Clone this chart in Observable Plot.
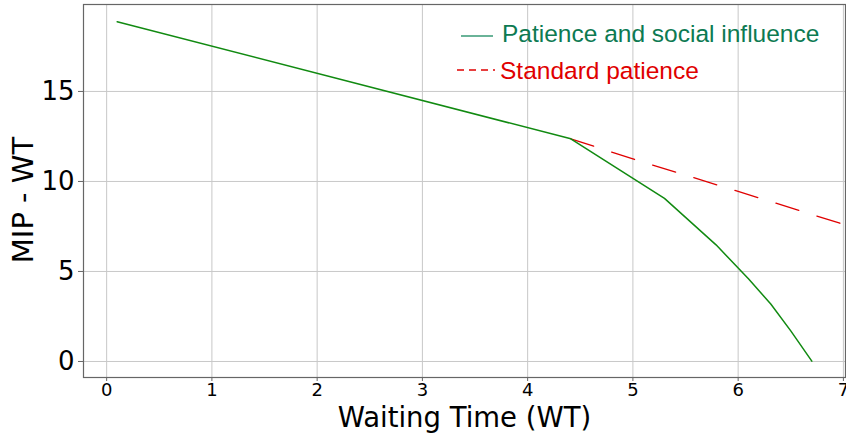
<!DOCTYPE html>
<html>
<head>
<meta charset="utf-8">
<script src="https://cdn.jsdelivr.net/npm/d3@7"></script>
<script src="https://cdn.jsdelivr.net/npm/@observablehq/plot@0.6"></script>
<style>
  html, body { margin: 0; padding: 0; background: #fff; }
  #wrap { position: relative; width: 846px; height: 434px; }
  .leg { position: absolute; font-family: "Liberation Sans", Arial, sans-serif; font-size: 24.5px; line-height: 1; white-space: nowrap; }
</style>
</head>
<body>
<div id="wrap"></div>
<script>
// Data
const socialX = [0.1, 4.41, 5.30, 5.79, 6.10, 6.31, 6.50, 6.70];
const socialY = [18.87, 12.37, 9.06, 6.48, 4.58, 3.19, 1.70, 0.02];
const standardX = [4.41, 5.0, 6.0, 7.01];
const standardY = [12.37, 11.25, 9.45, 7.60];
const xTicks = [0, 1, 2, 3, 4, 5, 6, 7];
const yTicks = [0, 5, 10, 15];
const seriesNames = ["Patience and social influence", "Standard patience"];
const xLabel = "Waiting Time (WT)";
const yLabel = "MIP - WT";

const social = socialX.map((x, i) => ({x, y: socialY[i]}));
const standard = standardX.map((x, i) => ({x, y: standardY[i]}));

const GREEN = "#118a11";
const RED = "#e00000";

const chart = Plot.plot({
  width: 846,
  height: 434,
  marginLeft: 83,
  marginRight: 1,
  marginTop: 4,
  marginBottom: 57,
  style: {fontFamily: "DejaVu Sans", background: "#fff", color: "#000"},
  x: {domain: [-0.22, 7.02]},
  y: {domain: [-0.89, 19.83]},
  marks: [
    Plot.gridX(xTicks, {stroke: "#c8c8c8", strokeOpacity: 1, strokeWidth: 1}),
    Plot.gridY(yTicks, {stroke: "#c8c8c8", strokeOpacity: 1, strokeWidth: 1}),
    Plot.axisX(xTicks, {tickSize: 4, tickPadding: 2, fontSize: 18, label: null, stroke: "#666", tickFormat: d => String(d)}),
    Plot.axisY(yTicks, {tickSize: 5, tickPadding: 4, fontSize: 26, label: null, stroke: "#666", tickFormat: d => String(d)}),
    Plot.line(standard, {x: "x", y: "y", stroke: RED, strokeWidth: 1.3, strokeDasharray: "24,19"}),
    Plot.line(social, {x: "x", y: "y", stroke: GREEN, strokeWidth: 1.5}),
    Plot.frame({stroke: "#666", strokeWidth: 1.2}),
    Plot.text([xLabel], {text: d => d, frameAnchor: "bottom", textAnchor: "middle", lineAnchor: "top", dy: 30, fontSize: 27.5, fill: "#000"}),
    Plot.text([yLabel], {text: d => d, frameAnchor: "left", textAnchor: "middle", rotate: -90, dx: -60, dy: 9, lineAnchor: "middle", fontSize: 29, fill: "#000"})
  ]
});

const wrap = document.getElementById("wrap");
wrap.appendChild(chart);

// Legend overlay
const legendItems = [
  {name: seriesNames[0], color: "#0d7a52", line: "#1a8a60", dash: null, top: 22, left: 502, lx1: 461, lx2: 493, ly: 36},
  {name: seriesNames[1], color: RED, line: RED, dash: "7,5", top: 59, left: 500, lx1: 457, lx2: 495, ly: 70}
];
for (const it of legendItems) {
  const ns = "http://www.w3.org/2000/svg";
  const s = document.createElementNS(ns, "svg");
  s.setAttribute("width", 846); s.setAttribute("height", 434);
  s.style.position = "absolute"; s.style.left = "0"; s.style.top = "0"; s.style.pointerEvents = "none";
  const l = document.createElementNS(ns, "line");
  l.setAttribute("x1", it.lx1); l.setAttribute("x2", it.lx2);
  l.setAttribute("y1", it.ly); l.setAttribute("y2", it.ly);
  l.setAttribute("stroke", it.line); l.setAttribute("stroke-width", 1.3);
  if (it.dash) l.setAttribute("stroke-dasharray", it.dash);
  s.appendChild(l);
  wrap.appendChild(s);
  const d = document.createElement("div");
  d.className = "leg";
  d.style.left = it.left + "px";
  d.style.top = it.top + "px";
  d.style.color = it.color;
  d.textContent = it.name;
  wrap.appendChild(d);
}
</script>
</body>
</html>
